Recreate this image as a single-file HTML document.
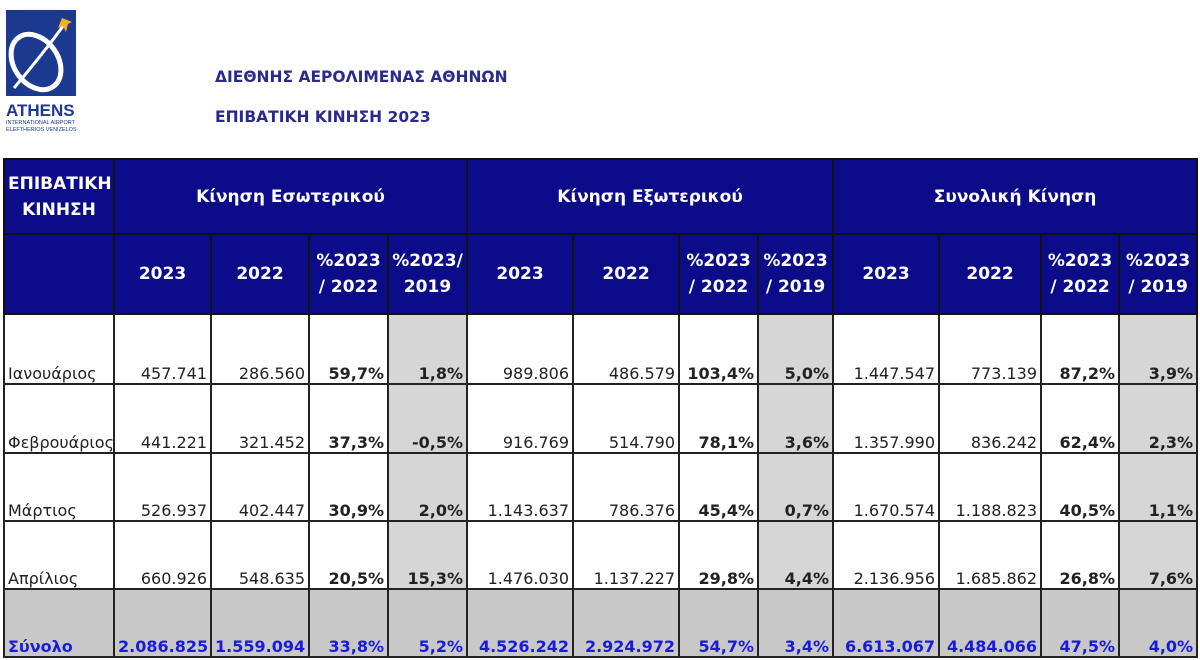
<!DOCTYPE html>
<html><head><meta charset="utf-8"><style>
body{margin:0;width:1200px;height:660px;background:#fff;position:relative;overflow:hidden;font-family:"DejaVu Sans","Liberation Sans",sans-serif;}
.title{position:absolute;left:215px;color:#2a2a8c;font-weight:bold;font-size:15.5px;}
table{position:absolute;left:3px;top:158px;width:1193px;border-collapse:collapse;table-layout:fixed;}
td{border:2px solid #222;padding:0 3px 0 3px;font-size:16px;color:#222;overflow:hidden;}
.h td{background:#0c0c8a;color:#fff;font-weight:bold;text-align:center;vertical-align:middle;border-color:#111;white-space:normal;font-size:17px;line-height:26px;}
.d td{text-align:right;vertical-align:bottom;white-space:nowrap;}
.d td.m{text-align:left;}
.b{font-weight:bold;}
.g{background:#d6d6d6;}
.t td{background:#c8c8c8;color:#1a1adc;font-weight:bold;}
</style></head><body>
<svg style="position:absolute;left:6px;top:10px" width="72" height="126" viewBox="0 0 72 126">
<rect x="0" y="0" width="70" height="86" fill="#1b3a8f"/>
<ellipse cx="30" cy="52" rx="22" ry="30" fill="none" stroke="#fff" stroke-width="5" transform="rotate(-35 30 52)"/>
<path d="M8 78 Q40 40 60 12" stroke="#fff" stroke-width="3" fill="none"/>
<path d="M56 8 l10 4 l-4 2 l-2 8 l-3 -6 l-5 2 z" fill="#f0b020"/>
<text x="0" y="106" font-family="Liberation Sans" font-weight="bold" font-size="17" fill="#1b3a8f">ATHENS</text>
<text x="0" y="114" font-family="Liberation Sans" font-size="5.5" fill="#1b3a8f">INTERNATIONAL AIRPORT</text>
<text x="0" y="121" font-family="Liberation Sans" font-size="5.5" fill="#1b3a8f">ELEFTHERIOS VENIZELOS</text>
</svg>
<div class="title" style="top:68px">ΔΙΕΘΝΗΣ ΑΕΡΟΛΙΜΕΝΑΣ ΑΘΗΝΩΝ</div>
<div class="title" style="top:108px">ΕΠΙΒΑΤΙΚΗ ΚΙΝΗΣΗ 2023</div>
<table>
<colgroup><col style="width:110px"><col style="width:97px"><col style="width:98px"><col style="width:79px"><col style="width:79px"><col style="width:106px"><col style="width:106px"><col style="width:79px"><col style="width:75px"><col style="width:106px"><col style="width:102px"><col style="width:78px"><col style="width:78px"></colgroup>
<tr class="h" style="height:75px"><td>ΕΠΙΒΑΤΙΚΗ ΚΙΝΗΣΗ</td><td colspan="4">Κίνηση Εσωτερικού</td><td colspan="4">Κίνηση Εξωτερικού</td><td colspan="4">Συνολική Κίνηση</td></tr>
<tr class="h" style="height:80px"><td></td><td>2023</td><td>2022</td><td>%2023 / 2022</td><td>%2023/ 2019</td><td>2023</td><td>2022</td><td>%2023 / 2022</td><td>%2023 / 2019</td><td>2023</td><td>2022</td><td>%2023 / 2022</td><td>%2023 / 2019</td></tr>
<tr class="d" style="height:70px"><td class="m">Ιανουάριος</td><td>457.741</td><td>286.560</td><td class="b">59,7%</td><td class="b g">1,8%</td><td>989.806</td><td>486.579</td><td class="b">103,4%</td><td class="b g">5,0%</td><td>1.447.547</td><td>773.139</td><td class="b">87,2%</td><td class="b g">3,9%</td></tr>
<tr class="d" style="height:69px"><td class="m">Φεβρουάριος</td><td>441.221</td><td>321.452</td><td class="b">37,3%</td><td class="b g">-0,5%</td><td>916.769</td><td>514.790</td><td class="b">78,1%</td><td class="b g">3,6%</td><td>1.357.990</td><td>836.242</td><td class="b">62,4%</td><td class="b g">2,3%</td></tr>
<tr class="d" style="height:68px"><td class="m">Μάρτιος</td><td>526.937</td><td>402.447</td><td class="b">30,9%</td><td class="b g">2,0%</td><td>1.143.637</td><td>786.376</td><td class="b">45,4%</td><td class="b g">0,7%</td><td>1.670.574</td><td>1.188.823</td><td class="b">40,5%</td><td class="b g">1,1%</td></tr>
<tr class="d" style="height:68px"><td class="m">Απρίλιος</td><td>660.926</td><td>548.635</td><td class="b">20,5%</td><td class="b g">15,3%</td><td>1.476.030</td><td>1.137.227</td><td class="b">29,8%</td><td class="b g">4,4%</td><td>2.136.956</td><td>1.685.862</td><td class="b">26,8%</td><td class="b g">7,6%</td></tr>
<tr class="d t" style="height:68px"><td class="m">Σύνολο</td><td>2.086.825</td><td>1.559.094</td><td>33,8%</td><td>5,2%</td><td>4.526.242</td><td>2.924.972</td><td>54,7%</td><td>3,4%</td><td>6.613.067</td><td>4.484.066</td><td>47,5%</td><td>4,0%</td></tr>
</table>
</body></html>
